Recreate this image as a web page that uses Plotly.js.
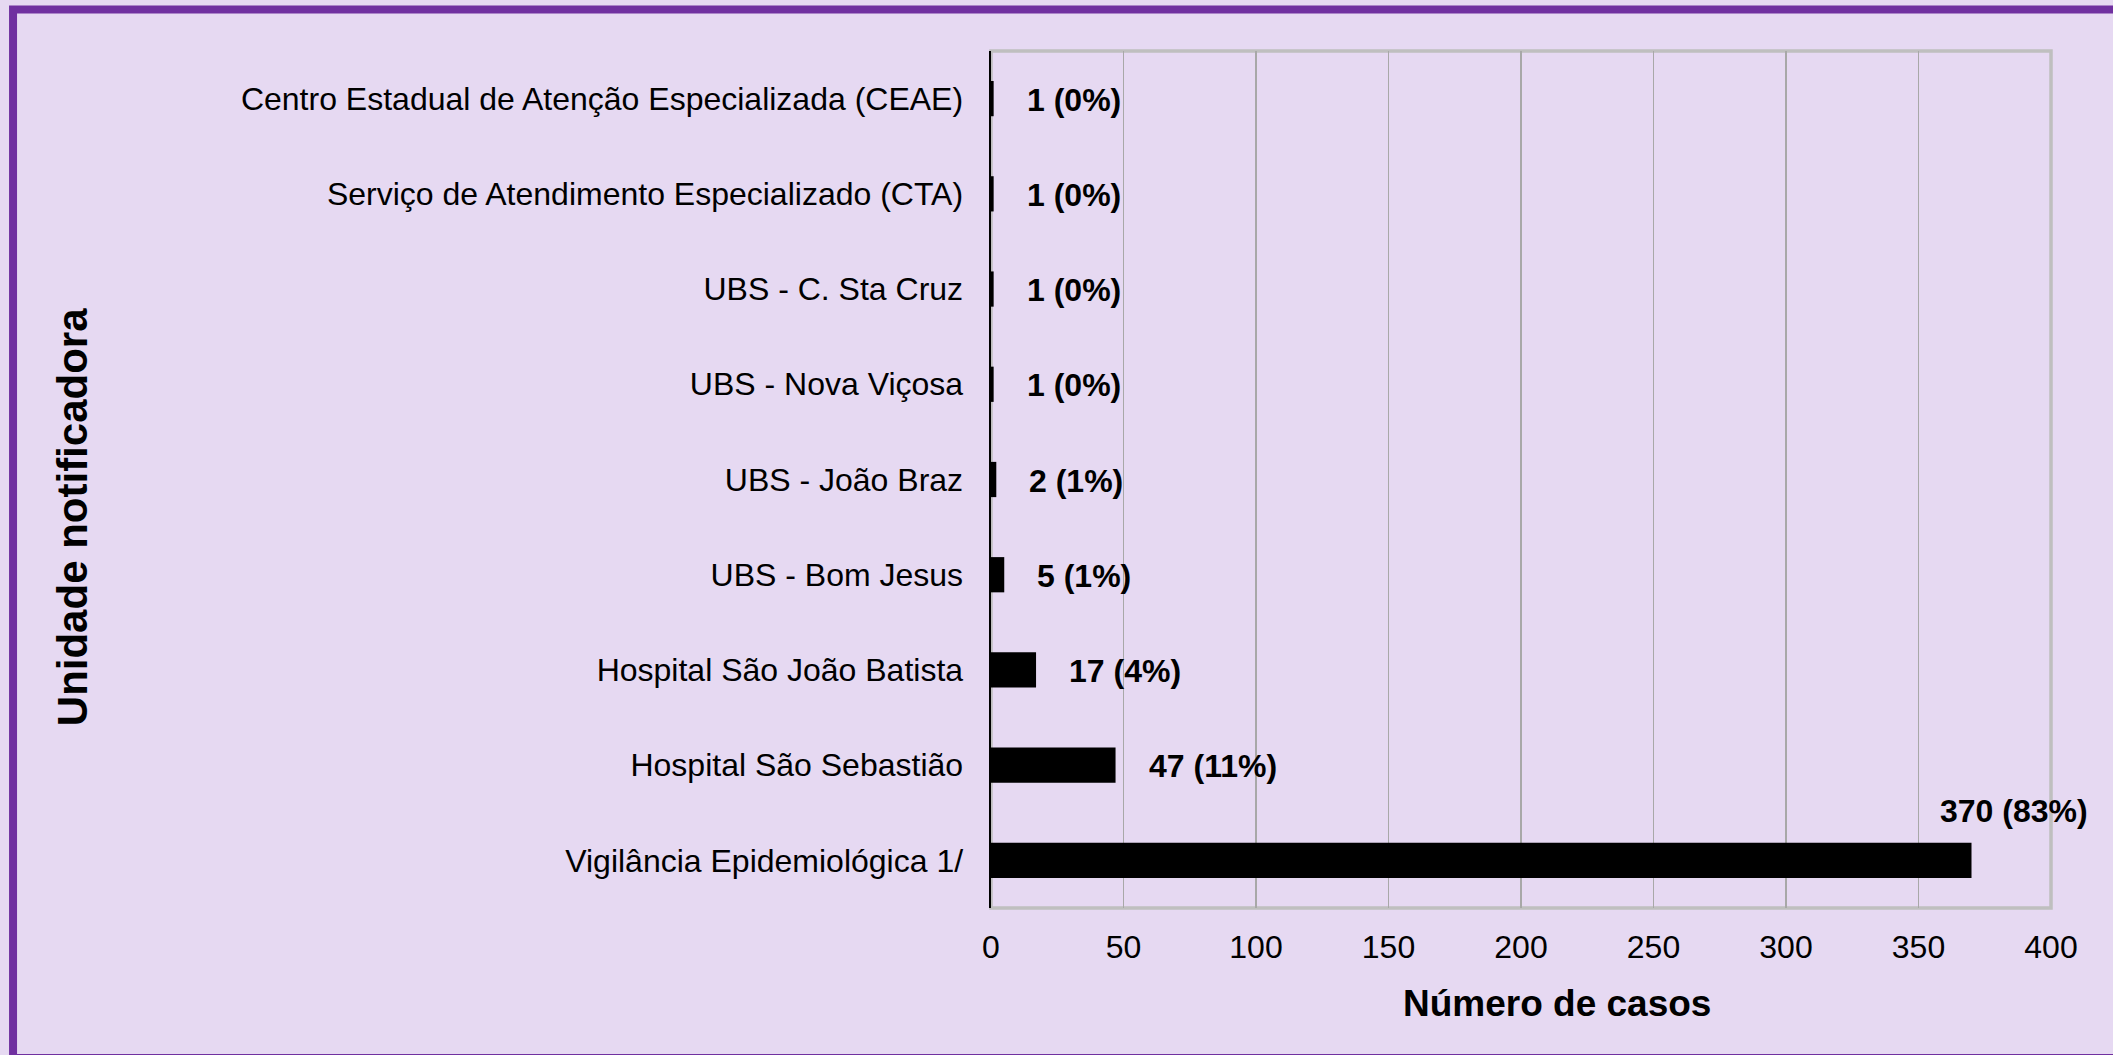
<!DOCTYPE html>
<html>
<head>
<meta charset="utf-8">
<script src="https://cdn.plot.ly/plotly-3.0.1.min.js"></script>
<style>
  html, body { margin: 0; padding: 0; background: #E6D9F2; }
  #chart { width: 2113px; height: 1055px; }
</style>
</head>
<body>
<div id="chart"></div>
<script>
// categories from bottom to top (Plotly puts the first category at the bottom)
var unidades = [
  'Vigilância Epidemiológica 1/',
  'Hospital São Sebastião',
  'Hospital São João Batista',
  'UBS - Bom Jesus',
  'UBS - João Braz',
  'UBS - Nova Viçosa',
  'UBS - C. Sta Cruz',
  'Serviço de Atendimento Especializado (CTA)',
  'Centro Estadual de Atenção Especializada (CEAE)'
];
var casos = [370, 47, 17, 5, 2, 1, 1, 1, 1];
var percentuais = [83, 11, 4, 1, 1, 0, 0, 0, 0];
var xTicks = [0, 50, 100, 150, 200, 250, 300, 350, 400];

var fonte = '"Liberation Sans", Arial, sans-serif';
var bg = '#E6D9F2';

var trace = {
  type: 'bar',
  orientation: 'h',
  x: casos,
  y: unidades,
  width: 0.37,
  marker: { color: '#000000', line: { width: 0 } },
  hoverinfo: 'x+y'
};

var maxCasos = Math.max.apply(null, casos);
var rotulos = [];
for (var i = 0; i < casos.length; i++) {
  var txt = casos[i] + ' (' + percentuais[i] + '%)';
  var ann = {
    x: casos[i],
    y: unidades[i],
    xref: 'x',
    yref: 'y',
    text: txt,
    showarrow: false,
    font: { family: fonte, size: 32, color: '#000000', weight: 'bold' },
    xanchor: 'left',
    xshift: 31,
    yshift: -1
  };
  if (casos[i] === maxCasos) {
    // biggest bar: label sits above the bar end
    ann.xanchor = 'center';
    ann.xshift = 42;
    ann.yshift = 49;
  }
  rotulos.push(ann);
}

// axis titles as annotations (positioned like the original)
rotulos.push({
  xref: 'paper', yref: 'paper',
  x: -0.867, y: 0.456,
  text: 'Unidade notificadora',
  textangle: -90,
  showarrow: false,
  xanchor: 'center', yanchor: 'middle',
  font: { family: fonte, size: 42, color: '#000000', weight: 'bold' }
});
rotulos.push({
  xref: 'paper', yref: 'paper',
  x: 0.5344, y: -0.111,
  text: 'Número de casos',
  showarrow: false,
  xanchor: 'center', yanchor: 'middle',
  font: { family: fonte, size: 37, color: '#000000', weight: 'bold' }
});

var layout = {
  width: 2113,
  height: 1055,
  margin: { l: 991, r: 62, t: 51, b: 147 },
  paper_bgcolor: bg,
  plot_bgcolor: bg,
  showlegend: false,
  bargap: 0.63,
  xaxis: {
    range: [0, 400],
    tickvals: xTicks,
    ticktext: xTicks.map(String),
    showgrid: true,
    gridcolor: '#A8A8A8',
    gridwidth: 1.5,
    zeroline: false,
    showline: false,
    ticks: '',
    ticklabelstandoff: 17,
    tickfont: { family: fonte, size: 32, color: '#000000' },
    fixedrange: true
  },
  yaxis: {
    type: 'category',
    categoryorder: 'array',
    categoryarray: unidades,
    showgrid: false,
    zeroline: false,
    showline: true,
    linecolor: '#000000',
    linewidth: 2.5,
    ticks: '',
    ticklabelstandoff: 19,
    tickfont: { family: fonte, size: 32, color: '#000000' },
    fixedrange: true
  },
  shapes: [
    {
      // gray plot frame
      type: 'rect', xref: 'paper', yref: 'paper',
      x0: 0, x1: 1, y0: 0, y1: 1,
      line: { color: '#BFBFBF', width: 3.5 },
      layer: 'below'
    },
    {
      // purple outer border
      type: 'rect', xref: 'paper', yref: 'paper',
      x0: -0.9226, x1: 1.0698, y0: -0.175, y1: 1.0484,
      line: { color: '#7030A0', width: 8 },
      layer: 'above'
    }
  ],
  annotations: rotulos
};

Plotly.newPlot('chart', [trace], layout, { displayModeBar: false, staticPlot: true });
</script>
</body>
</html>
